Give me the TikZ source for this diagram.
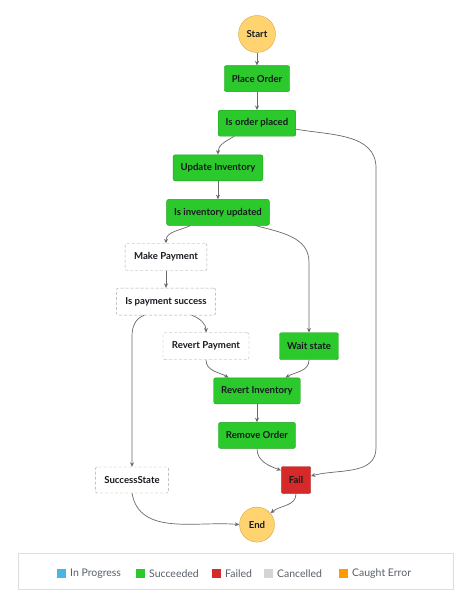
\documentclass[tikz,border=0pt]{standalone}
\usepackage{fontspec}
\setmainfont{Lato}
\usetikzlibrary{arrows.meta}
\definecolor{okgreen}{RGB}{44,201,44}
\definecolor{okedge}{RGB}{34,160,34}
\definecolor{failred}{RGB}{214,42,42}
\definecolor{failedge}{RGB}{168,28,28}
\definecolor{termyellow}{RGB}{255,212,112}
\definecolor{termedge}{RGB}{214,166,74}
\definecolor{skipedge}{RGB}{165,165,165}
\definecolor{linegrey}{RGB}{105,105,105}
\definecolor{inkdark}{RGB}{22,25,31}
\definecolor{legendink}{RGB}{88,95,106}
\definecolor{legendedge}{RGB}{222,222,222}
\definecolor{progblue}{RGB}{69,183,226}
\definecolor{cancelgrey}{RGB}{212,212,212}
\definecolor{caughtorange}{RGB}{255,153,0}
\begin{document}
\begin{tikzpicture}[x=1pt, y=-1pt, node distance=44.6pt,
    every node/.style={font=\fontsize{9.6}{11}\selectfont, text=inkdark},
    okbox/.style={draw=okedge, fill=okgreen, rounded corners=2pt, minimum height=26pt, inner xsep=7.5pt, font=\fontsize{9.6}{11}\selectfont\bfseries},
    failbox/.style={okbox, draw=failedge, fill=failred},
    skipbox/.style={draw=skipedge, dash pattern=on 3pt off 2pt, fill=white, rounded corners=2pt, minimum height=27pt, inner xsep=9pt, font=\fontsize{9.6}{11}\selectfont\bfseries},
    term/.style={circle, draw=termedge, fill=termyellow, minimum size=37pt, inner sep=0pt, font=\fontsize{9.6}{11}\selectfont\bfseries},
    flow/.style={draw=linegrey, line width=0.7pt, -{Stealth[length=4.5pt,width=4pt]}},
    swatch/.style={minimum size=8.5pt, inner sep=0pt},
    legendtext/.style={anchor=west, inner sep=0pt, text=legendink, font=\fontsize{10.5}{12}\selectfont}]
    \useasboundingbox (0,0) rectangle (474,594);
    % States
    \node (start) [term] at (257,34) {Start};
    \node (place) [okbox, below of=start] {Place Order};
    \node (isplaced) [okbox, below of=place] {Is order placed};
    \node (updinv) [okbox, below of=isplaced, xshift=-39pt] {Update Inventory};
    \node (isupd) [okbox, below of=updinv] {Is inventory updated};
    \node (makepay) [skipbox, below of=isupd, xshift=-52pt] {Make Payment};
    \node (ispay) [skipbox, below of=makepay] {Is payment success};
    \node (revpay) [skipbox, below of=ispay, xshift=40pt] {Revert Payment};
    \node (wait) [okbox, minimum height=27pt, right of=revpay, node distance=103pt] {Wait state};
    \node (revinv) [okbox, below of=revpay, xshift=51pt] {Revert Inventory};
    \node (remove) [okbox, below of=revinv] {Remove Order};
    \node (fail) [failbox, minimum height=27pt, below of=remove, xshift=39pt] {Fail};
    \node (success) [skipbox, minimum height=26pt, left of=fail, node distance=164pt] {SuccessState};
    \node (end) [term, minimum size=35pt, below of=remove, node distance=89.2pt] {End};
    % Bends
    \coordinate (railtop) at (376,168);
    \coordinate (railbot) at (376,448);
    \coordinate (waittop) at (309,262);
    \coordinate (succtop) at (132,336);
    % Arrows
    \draw[flow] (start) -- (place);
    \draw[flow] (place) -- (isplaced);
    \draw[flow] ([xshift=16pt]isplaced.south west) to[out=-150, in=90] (updinv.north);
    \draw[flow] ([yshift=-6pt]isplaced.east) to[out=-10, in=90] (railtop) -- (railbot) to[out=-90, in=15] ([yshift=4pt]fail.east);
    \draw[flow] (updinv) -- (isupd);
    \draw[flow] ([xshift=24pt]isupd.south west) to[out=-155, in=90] (makepay.north);
    \draw[flow] ([xshift=-14pt]isupd.south east) to[out=-15, in=90] (waittop) -- (wait.north);
    \draw[flow] (makepay) -- (ispay);
    \draw[flow] ([xshift=28pt]ispay.south west) to[out=-160, in=90] (succtop) -- (success.north);
    \draw[flow] ([xshift=-24pt]ispay.south east) to[out=-20, in=90] (revpay.north);
    \draw[flow] (revpay.south) to[out=-90, in=150] ([xshift=15pt]revinv.north west);
    \draw[flow] (wait.south) to[out=-90, in=30] ([xshift=-15pt]revinv.north east);
    \draw[flow] (revinv) -- (remove);
    \draw[flow] (remove.south) to[out=-90, in=160] ([yshift=-4pt]fail.north west);
    \draw[flow] (fail.south) to[out=-90, in=40] (end.40);
    \draw[flow] (success.south) to[out=-80, in=175] (end.west);
    % Legend
    \node (legend) [draw=legendedge, fill=white, minimum width=435pt, minimum height=36pt, inner sep=0pt] at (235.5,571) {};
    \foreach \col/\name/\lbl/\pos in {progblue/prog/In Progress/61.5, okgreen/ok/Succeeded/140.5, failred/failed/Failed/216.5, cancelgrey/cancel/Cancelled/268.5, caughtorange/caught/Caught Error/343.5} {
        \node (\name sw) [swatch, fill=\col] at (\pos,573.5) {};
        \node (\name) [legendtext] at ([xshift=4pt]\name sw.east) {\lbl};
    }
\end{tikzpicture}
\end{document}
